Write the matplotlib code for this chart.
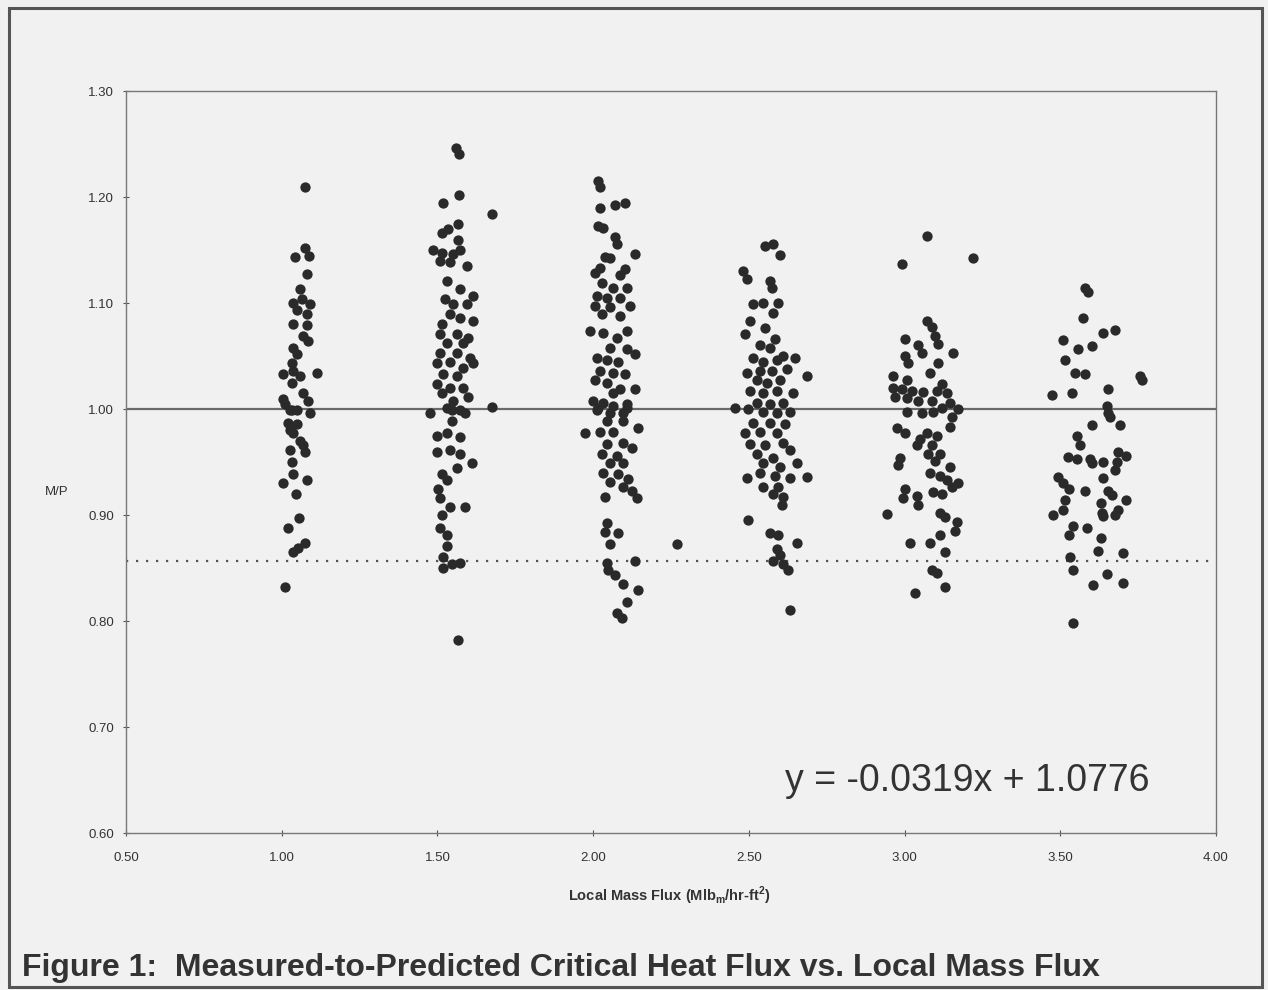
import matplotlib
import matplotlib.pyplot as plt
from matplotlib.patches import Rectangle

matplotlib.use('Agg')

# M/P values, grouped by mass flux band (x, M/P)
g100 = [(1.076, 1.209), (1.075, 1.152), (1.043, 1.143), (1.088, 1.144), (1.081, 1.127),
        (1.059, 1.113), (1.036, 1.100), (1.065, 1.104), (1.091, 1.099), (1.049, 1.093),
        (1.081, 1.090), (1.036, 1.080), (1.081, 1.079), (1.068, 1.069), (1.084, 1.064),
        (1.036, 1.058), (1.049, 1.052), (1.033, 1.043), (1.004, 1.033), (1.036, 1.036),
        (1.059, 1.031), (1.033, 1.025), (1.113, 1.034), (1.068, 1.015), (1.004, 1.009),
        (1.084, 1.008), (1.049, 0.999), (1.027, 0.999), (1.091, 0.996), (1.011, 1.005),
        (1.033, 0.999), (1.020, 0.987), (1.049, 0.986), (1.036, 0.977), (1.059, 0.970),
        (1.075, 0.959), (1.027, 0.961), (1.033, 0.950), (1.036, 0.939), (1.004, 0.930),
        (1.081, 0.933), (1.046, 0.920), (1.056, 0.897), (1.020, 0.888), (1.075, 0.874),
        (1.052, 0.869), (1.036, 0.865), (1.011, 0.832), (1.027, 0.980), (1.068, 0.966)]

g150 = [(1.560, 1.246), (1.569, 1.241), (1.569, 1.202), (1.518, 1.194), (1.675, 1.184),
        (1.566, 1.175), (1.515, 1.166), (1.534, 1.170), (1.486, 1.150), (1.515, 1.147),
        (1.566, 1.159), (1.550, 1.146), (1.572, 1.150), (1.508, 1.140), (1.540, 1.139),
        (1.595, 1.135), (1.531, 1.121), (1.572, 1.113), (1.524, 1.104), (1.614, 1.107),
        (1.550, 1.099), (1.595, 1.099), (1.540, 1.090), (1.572, 1.086), (1.614, 1.083),
        (1.515, 1.080), (1.508, 1.071), (1.563, 1.071), (1.598, 1.067), (1.531, 1.062),
        (1.582, 1.062), (1.508, 1.053), (1.563, 1.053), (1.605, 1.048), (1.499, 1.043),
        (1.540, 1.044), (1.582, 1.039), (1.614, 1.043), (1.518, 1.033), (1.563, 1.031),
        (1.499, 1.024), (1.540, 1.020), (1.582, 1.020), (1.515, 1.015), (1.598, 1.011),
        (1.550, 1.008), (1.476, 0.996), (1.531, 1.001), (1.572, 0.999), (1.675, 1.002),
        (1.547, 0.999), (1.589, 0.996), (1.547, 0.989), (1.499, 0.975), (1.531, 0.977),
        (1.572, 0.974), (1.499, 0.959), (1.540, 0.961), (1.572, 0.958), (1.611, 0.949),
        (1.563, 0.944), (1.515, 0.939), (1.531, 0.933), (1.502, 0.925), (1.508, 0.916),
        (1.540, 0.908), (1.589, 0.908), (1.515, 0.900), (1.508, 0.888), (1.531, 0.881),
        (1.531, 0.871), (1.518, 0.860), (1.547, 0.854), (1.572, 0.855), (1.518, 0.850),
        (1.566, 0.782)]

g200 = [(2.016, 1.215), (2.022, 1.209), (2.022, 1.190), (2.070, 1.192), (2.102, 1.194),
        (2.016, 1.173), (2.032, 1.171), (2.070, 1.162), (2.077, 1.156), (2.135, 1.146),
        (2.038, 1.143), (2.054, 1.142), (2.022, 1.133), (2.102, 1.132), (2.006, 1.128),
        (2.086, 1.126), (2.029, 1.119), (2.064, 1.114), (2.109, 1.114), (2.013, 1.107),
        (2.045, 1.105), (2.086, 1.105), (2.006, 1.097), (2.054, 1.096), (2.118, 1.097),
        (2.029, 1.090), (2.086, 1.088), (1.990, 1.074), (2.032, 1.072), (2.109, 1.074),
        (2.077, 1.067), (2.054, 1.058), (2.109, 1.057), (2.135, 1.052), (2.013, 1.048),
        (2.045, 1.046), (2.080, 1.044), (2.022, 1.036), (2.064, 1.034), (2.102, 1.033),
        (2.006, 1.027), (2.045, 1.025), (2.086, 1.019), (2.135, 1.019), (2.064, 1.015),
        (2.000, 1.008), (2.032, 1.006), (2.109, 1.005), (2.013, 0.999), (2.054, 0.996),
        (2.096, 0.996), (2.016, 1.001), (2.064, 1.003), (2.109, 1.001), (2.045, 0.989),
        (2.096, 0.989), (1.974, 0.977), (2.022, 0.978), (2.064, 0.978), (2.144, 0.982),
        (2.045, 0.967), (2.096, 0.968), (2.125, 0.963), (2.029, 0.958), (2.077, 0.956),
        (2.054, 0.949), (2.096, 0.949), (2.032, 0.940), (2.080, 0.939), (2.112, 0.934),
        (2.054, 0.931), (2.096, 0.926), (2.038, 0.917), (2.125, 0.923), (2.141, 0.916),
        (2.045, 0.892), (2.038, 0.884), (2.080, 0.883), (2.054, 0.873), (2.269, 0.873),
        (2.045, 0.855), (2.135, 0.857), (2.048, 0.848), (2.070, 0.843), (2.096, 0.835),
        (2.144, 0.829), (2.109, 0.818), (2.077, 0.808), (2.093, 0.803)]

g250 = [(2.552, 1.154), (2.578, 1.156), (2.600, 1.145), (2.481, 1.130), (2.494, 1.123),
        (2.568, 1.121), (2.574, 1.114), (2.513, 1.099), (2.546, 1.100), (2.594, 1.100),
        (2.578, 1.091), (2.504, 1.083), (2.552, 1.076), (2.488, 1.071), (2.584, 1.066),
        (2.536, 1.060), (2.568, 1.058), (2.513, 1.048), (2.610, 1.050), (2.648, 1.048),
        (2.546, 1.044), (2.591, 1.046), (2.494, 1.034), (2.536, 1.036), (2.574, 1.036),
        (2.623, 1.038), (2.687, 1.031), (2.526, 1.027), (2.558, 1.025), (2.600, 1.027),
        (2.504, 1.017), (2.546, 1.015), (2.591, 1.017), (2.642, 1.015), (2.526, 1.006),
        (2.568, 1.005), (2.610, 1.006), (2.456, 1.001), (2.498, 1.000), (2.546, 0.997),
        (2.591, 0.996), (2.632, 0.997), (2.513, 0.987), (2.568, 0.987), (2.616, 0.986),
        (2.488, 0.977), (2.536, 0.978), (2.591, 0.977), (2.504, 0.967), (2.552, 0.966),
        (2.610, 0.968), (2.632, 0.961), (2.526, 0.958), (2.578, 0.954), (2.546, 0.949),
        (2.600, 0.945), (2.655, 0.949), (2.536, 0.940), (2.494, 0.935), (2.584, 0.937),
        (2.687, 0.936), (2.632, 0.935), (2.546, 0.926), (2.594, 0.926), (2.578, 0.920),
        (2.610, 0.917), (2.607, 0.909), (2.498, 0.895), (2.568, 0.883), (2.594, 0.881),
        (2.655, 0.874), (2.591, 0.868), (2.600, 0.862), (2.578, 0.857), (2.610, 0.854),
        (2.626, 0.848), (2.632, 0.810)]

g300 = [(3.072, 1.163), (2.992, 1.137), (3.220, 1.142), (3.072, 1.083), (3.088, 1.077),
        (3.098, 1.069), (3.002, 1.066), (3.043, 1.060), (3.108, 1.061), (3.156, 1.053),
        (3.056, 1.053), (3.002, 1.050), (3.011, 1.043), (3.108, 1.043), (3.082, 1.034),
        (2.963, 1.031), (3.008, 1.027), (3.120, 1.024), (2.963, 1.020), (2.992, 1.019),
        (3.024, 1.017), (3.059, 1.016), (3.104, 1.017), (3.136, 1.015), (2.970, 1.011),
        (3.008, 1.010), (3.043, 1.008), (3.088, 1.008), (3.146, 1.006), (3.120, 1.001),
        (3.172, 1.000), (3.008, 0.997), (3.056, 0.996), (3.091, 0.997), (3.152, 0.992),
        (2.976, 0.982), (3.146, 0.983), (3.002, 0.977), (3.072, 0.977), (3.104, 0.975),
        (3.050, 0.972), (3.040, 0.966), (3.088, 0.966), (3.075, 0.958), (3.114, 0.958),
        (2.986, 0.954), (3.098, 0.951), (3.146, 0.945), (2.979, 0.947), (3.082, 0.940),
        (3.114, 0.937), (3.136, 0.933), (3.172, 0.930), (3.002, 0.925), (3.152, 0.926),
        (3.091, 0.922), (3.120, 0.920), (3.040, 0.918), (2.995, 0.916), (3.043, 0.909),
        (2.944, 0.901), (3.114, 0.902), (3.130, 0.898), (3.169, 0.893), (3.162, 0.885),
        (3.114, 0.881), (3.018, 0.874), (3.082, 0.874), (3.130, 0.865), (3.088, 0.848),
        (3.104, 0.845), (3.130, 0.832), (3.034, 0.826)]

g350 = [(3.580, 1.114), (3.590, 1.110), (3.573, 1.086), (3.637, 1.072), (3.676, 1.075),
        (3.509, 1.065), (3.557, 1.057), (3.602, 1.059), (3.515, 1.046), (3.547, 1.034),
        (3.580, 1.033), (3.756, 1.031), (3.763, 1.027), (3.653, 1.019), (3.474, 1.013),
        (3.538, 1.015), (3.650, 1.003), (3.653, 0.996), (3.660, 0.992), (3.602, 0.985),
        (3.692, 0.985), (3.554, 0.975), (3.564, 0.966), (3.525, 0.955), (3.554, 0.953),
        (3.596, 0.953), (3.686, 0.959), (3.712, 0.956), (3.602, 0.949), (3.637, 0.950),
        (3.682, 0.950), (3.676, 0.942), (3.493, 0.936), (3.509, 0.930), (3.637, 0.935),
        (3.528, 0.925), (3.580, 0.923), (3.653, 0.923), (3.666, 0.919), (3.515, 0.914),
        (3.712, 0.914), (3.631, 0.911), (3.509, 0.905), (3.634, 0.902), (3.686, 0.905),
        (3.477, 0.900), (3.637, 0.899), (3.676, 0.900), (3.541, 0.890), (3.586, 0.888),
        (3.528, 0.881), (3.631, 0.878), (3.621, 0.866), (3.702, 0.864), (3.531, 0.860),
        (3.541, 0.848), (3.650, 0.844), (3.605, 0.834), (3.702, 0.836), (3.541, 0.798)]

groups = [g100, g150, g200, g250, g300, g350]

x_ticks = [0.50, 1.00, 1.50, 2.00, 2.50, 3.00, 3.50, 4.00]
y_ticks = [0.60, 0.70, 0.80, 0.90, 1.00, 1.10, 1.20, 1.30]
unity = 1.00
lower_limit = 0.857
fit_text = 'y = -0.0319x + 1.0776'

bg = '#f1f1f1'
plt.rcParams['font.family'] = ['Liberation Sans', 'DejaVu Sans']

fig = plt.figure(figsize=(12.68, 9.90), dpi=100, facecolor=bg)
ax = fig.add_axes([126 / 1268, 1 - 833 / 990, 1090 / 1268, 742 / 990])
ax.set_facecolor(bg)

for g in groups:
    xs = [p[0] for p in g]
    ys = [p[1] for p in g]
    ax.scatter(xs, ys, s=55, color='#2a2a2a', linewidths=0, zorder=3)

ax.axhline(unity, color='#6a6a6a', lw=1.6, zorder=2)
ax.axhline(lower_limit, color='#555555', lw=1.6, linestyle=(0, (1, 3.5)), zorder=2)

ax.set_xlim(0.5, 4.0)
ax.set_ylim(0.6, 1.3)
ax.set_xticks(x_ticks)
ax.set_yticks(y_ticks)
ax.set_xticklabels([f'{v:.2f}' for v in x_ticks])
ax.set_yticklabels([f'{v:.2f}' for v in y_ticks])
ax.tick_params(axis='both', direction='inout', length=5, width=0.8, color='#555555',
               labelsize=9.5, labelcolor='#333333')
ax.tick_params(axis='x', pad=11)
ax.tick_params(axis='y', pad=6)
for s in ax.spines.values():
    s.set_color('#777777')
    s.set_linewidth(1.0)

ax.text((785 - 126) / 1090, (833 - 781) / 742, fit_text, transform=ax.transAxes,
        ha='left', va='center', fontsize=27, color='#333333')

fig.text(669 / 1268, 1 - 896 / 990, 'Local Mass Flux (Mlb$_\\mathregular{m}$/hr-ft$^\\mathregular{2}$)',
         ha='center', va='center', fontsize=10.5, fontweight='bold', color='#333333')
fig.text(57 / 1268, 1 - 492 / 990, 'M/P', ha='center', va='center', fontsize=9.5,
         color='#333333')
fig.text(22 / 1268, 1 - 968 / 990,
         'Figure 1:  Measured-to-Predicted Critical Heat Flux vs. Local Mass Flux',
         ha='left', va='center', fontsize=23, fontweight='bold', color='#333333')

fig.patches.append(Rectangle((9 / 1268, 3 / 990), 1253 / 1268, 979 / 990,
                             transform=fig.transFigure, fill=False,
                             edgecolor='#555555', lw=2.2))

fig.savefig('out.png', dpi=100, facecolor=bg)
plt.close(fig)
